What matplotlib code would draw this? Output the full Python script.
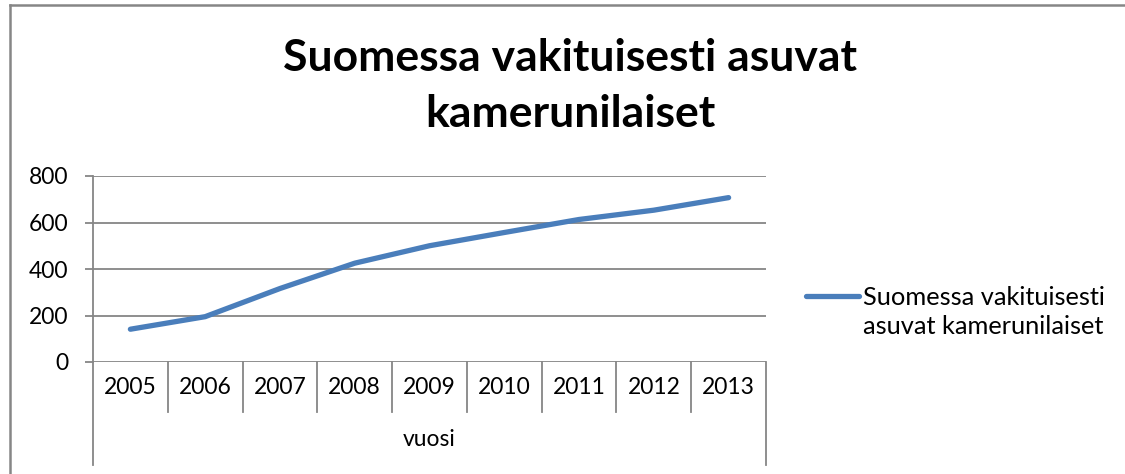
import matplotlib
matplotlib.use("Agg")
import matplotlib.pyplot as plt
from matplotlib.lines import Line2D

plt.rcParams['font.family'] = ['Lato', 'DejaVu Sans']

vuodet = ['2005', '2006', '2007', '2008', '2009', '2010', '2011', '2012', '2013']
asukkaat = [141, 195, 316, 425, 500, 557, 613, 653, 707]
y_ticks = [0, 200, 400, 600, 800]
otsikko = 'Suomessa vakituisesti asuvat\nkamerunilaiset'
sarja = 'Suomessa vakituisesti\nasuvat kamerunilaiset'
akseli = 'vuosi'

grey = '#868686'
blue = '#4A7EBB'

fig = plt.figure(figsize=(11.25, 4.74), dpi=100)
ax = fig.add_axes([93/1125, 112/474, 673/1125, 186/474])

x = list(range(len(vuodet)))
ax.plot(x, asukkaat, color=blue, lw=3.8, solid_capstyle='round', solid_joinstyle='round', zorder=3)

ax.set_xlim(-0.5, len(vuodet) - 0.5)
ax.set_ylim(0, 800)
ax.set_yticks(y_ticks)
ax.set_xticks([])
ax.grid(axis='y', color=grey, lw=1.3)
ax.tick_params(axis='y', length=5.5, width=1.3, color=grey, labelsize=16.5, pad=12)
for s in ['top', 'right', 'bottom']:
    ax.spines[s].set_visible(False)
ax.spines['left'].set_color(grey)
ax.spines['left'].set_linewidth(1.3)

# category boxes below the plot
tr = ax.get_xaxis_transform()
row1 = -50/186
row2 = -103/186
for i in range(1, len(vuodet)):
    ax.add_line(Line2D([i - 0.5, i - 0.5], [0, row1], transform=tr, color=grey, lw=1.3, clip_on=False))
for xe in [-0.5, len(vuodet) - 0.5]:
    ax.add_line(Line2D([xe, xe], [0, row2], transform=tr, color=grey, lw=1.3, clip_on=False))
for i, v in enumerate(vuodet):
    ax.text(i, -26/186, v, transform=tr, ha='center', va='center', fontsize=16.5)
ax.text((len(vuodet) - 1) / 2, -78/186, akseli, transform=tr, ha='center', va='center', fontsize=16.5)

fig.text(570/1125, 1 - 86/474, otsikko, ha='center', va='center', fontsize=32,
         fontweight='bold', linespacing=1.5)

# legend: handle beside first line of the label
fig.add_artist(Line2D([806/1125, 859/1125], [1 - 296/474, 1 - 296/474], color=blue, lw=3.8,
                      solid_capstyle='round'))
fig.text(863/1125, 1 - 312/474, sarja, ha='left', va='center', fontsize=18.3, linespacing=1.3)

# outer chart frame
fig.add_artist(Line2D([10/1125, 10/1125], [0, 1 - 5/474], color=grey, lw=1.8))
fig.add_artist(Line2D([10/1125, 1], [1 - 5/474, 1 - 5/474], color=grey, lw=1.8))

fig.savefig('out.png', dpi=100)
